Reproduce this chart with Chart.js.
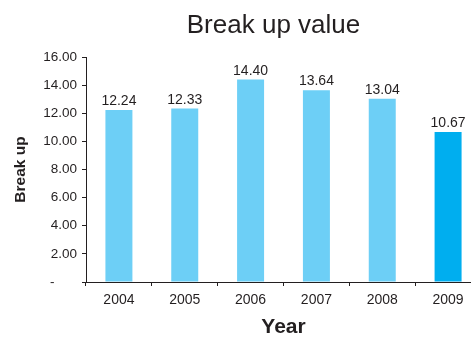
<!DOCTYPE html>
<html>
<head>
<meta charset="utf-8">
<script src="https://cdn.jsdelivr.net/npm/chart.js@4/dist/chart.umd.min.js"></script>
<style>
  html, body { margin: 0; padding: 0; background: #fff; overflow: hidden; }
  #wrap { width: 481px; height: 338px; }
</style>
</head>
<body>
<div id="wrap"><canvas id="grafico"></canvas></div>
<script>
const anos = ["2004", "2005", "2006", "2007", "2008", "2009"];
const valores = [12.24, 12.33, 14.40, 13.64, 13.04, 10.67];
const cores = ["#6dcff6", "#6dcff6", "#6dcff6", "#6dcff6", "#6dcff6", "#00aeef"];
const titulo = "Break up value";

const corTexto = "#231f20";
const fonte = "'Liberation Sans', Arial, sans-serif";

// rotulos de valor em cima das barras + titulo
const rotulos = {
  id: "rotulos",
  afterDatasetsDraw(chart) {
    const ctx = chart.ctx;
    const meta = chart.getDatasetMeta(0);
    ctx.save();
    ctx.font = "14px " + fonte;
    ctx.fillStyle = corTexto;
    ctx.textAlign = "center";
    ctx.textBaseline = "alphabetic";
    meta.data.forEach((bar, i) => {
      ctx.fillText(valores[i].toFixed(2), bar.x, bar.y - 5);
    });
    const area = chart.chartArea;
    ctx.font = "26px " + fonte;
    ctx.textBaseline = "middle";
    ctx.fillText(titulo, (area.left + area.right) / 2 - 10, 26);
    ctx.restore();
  },
};

const ctx = document.getElementById("grafico").getContext("2d");

new Chart(ctx, {
  type: "bar",
  data: {
    labels: anos,
    datasets: [
      {
        label: "Break up",
        data: valores,
        backgroundColor: cores,
        borderWidth: 0,
        categoryPercentage: 1,
        barPercentage: 0.41,
      },
    ],
  },
  options: {
    responsive: true,
    maintainAspectRatio: false,
    animation: false,
    layout: { padding: { top: 57, left: 0, right: 0, bottom: 0 } },
    plugins: {
      legend: { display: false },
      title: { display: false },
      tooltip: { enabled: false },
    },
    scales: {
      x: {
        grid: {
          offset: true,
          drawOnChartArea: false,
          drawTicks: true,
          tickLength: 4,
          color: corTexto,
        },
        border: { display: true, color: corTexto, width: 1 },
        ticks: { color: corTexto, font: { family: fonte, size: 14 }, padding: 6 },
        title: {
          display: true,
          text: "Year",
          color: corTexto,
          font: { family: fonte, size: 21, weight: "bold", lineHeight: 1 },
          padding: { top: 0, bottom: 0 },
        },
        afterFit(scale) {
          scale.height = 56;
        },
      },
      y: {
        min: 0,
        max: 16,
        grid: {
          drawOnChartArea: false,
          drawTicks: true,
          tickLength: 4,
          color: corTexto,
        },
        border: { display: true, color: corTexto, width: 1 },
        ticks: {
          stepSize: 2,
          color: corTexto,
          font: { family: fonte, size: 13.5 },
          padding: 5,
          callback: (v) => (v === 0 ? "-      " : v.toFixed(2)),
        },
        title: {
          display: true,
          text: "Break up",
          color: corTexto,
          font: { family: fonte, size: 15.5, weight: "bold", lineHeight: 1.2 },
          padding: { top: 11, bottom: 0 },
        },
        afterFit(scale) {
          scale.width = 86;
        },
      },
    },
  },
  plugins: [rotulos],
});
</script>
</body>
</html>
